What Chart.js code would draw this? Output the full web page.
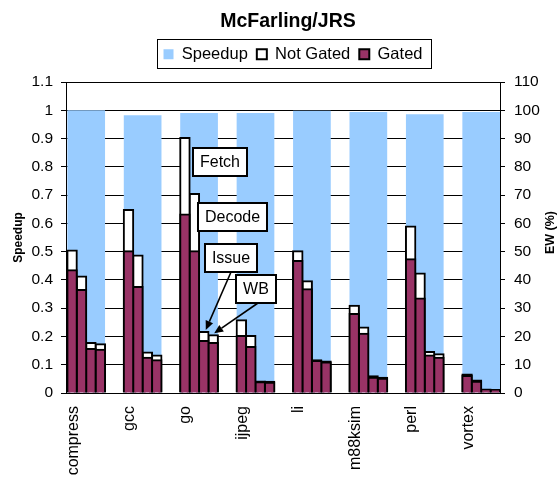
<!DOCTYPE html>
<html>
<head>
<meta charset="utf-8">
<title>McFarling/JRS</title>
<script src="https://cdn.jsdelivr.net/npm/chart.js@4.4.1/dist/chart.umd.min.js"></script>
<style>
  html, body { margin: 0; padding: 0; background: #ffffff; }
  #wrap { width: 559px; height: 479px; }
</style>
</head>
<body>
<div id="wrap"><canvas id="chart" width="559" height="479"></canvas></div>
<script>
// Benchmarks on the category axis
const categories = ['compress', 'gcc', 'go', 'ijpeg', 'li', 'm88ksim', 'perl', 'vortex'];

// Speedup (left axis)
const speedup = [1.000, 0.982, 0.990, 0.990, 0.998, 0.994, 0.986, 0.994];

// EW (%) per pipeline stage (right axis), without and with gating
const fetchNotGated  = [50.4, 64.7, 90.2, 25.7, 50.1, 30.9, 58.9, 6.5];
const fetchGated     = [43.4, 50.1, 63.1, 20.2, 46.7, 27.9, 47.3, 6.0];
const decodeNotGated = [41.2, 48.6, 70.4, 20.2, 39.5, 23.2, 42.3, 4.4];
const decodeGated    = [36.4, 37.5, 50.1, 16.3, 36.7, 21.0, 33.4, 4.0];
const issueNotGated  = [17.7, 14.3, 21.6, 4.1, 11.6, 5.9, 14.5, 1.2];
const issueGated     = [15.6, 12.5, 18.4, 3.8, 11.3, 5.4, 13.3, 1.0];
const wbNotGated     = [17.2, 13.3, 20.4, 4.0, 11.1, 5.4, 13.7, 1.1];
const wbGated        = [15.3, 11.6, 17.7, 3.6, 10.8, 5.0, 12.5, 0.9];

const stageNames = ['Fetch', 'Decode', 'Issue', 'WB'];
const notGatedByStage = [fetchNotGated, decodeNotGated, issueNotGated, wbNotGated];
const gatedByStage = [fetchGated, decodeGated, issueGated, wbGated];

// Styling
const FONT = '"Liberation Sans", Arial, Helvetica, sans-serif';
const SPEEDUP_BLUE = '#99CCFF';
const GATED_RED = '#993366';
const BAR_SHARE = 0.668;

Chart.defaults.font.family = FONT;
Chart.defaults.color = '#000000';

const datasets = [
  {
    label: 'Speedup',
    data: speedup,
    yAxisID: 'y',
    backgroundColor: SPEEDUP_BLUE,
    borderWidth: 0,
    inflateAmount: 0,
    grouped: false,
    categoryPercentage: BAR_SHARE,
    barPercentage: 1,
    order: 3
  }
];
stageNames.forEach((stage, i) => {
  datasets.push({
    label: 'Gated', stack: stage, data: gatedByStage[i], yAxisID: 'y2',
    backgroundColor: GATED_RED, borderColor: '#000000', borderWidth: 2, inflateAmount: 1,
    categoryPercentage: BAR_SHARE, barPercentage: 1, order: 1
  });
});
stageNames.forEach((stage, i) => {
  datasets.push({
    label: 'Not Gated', stack: stage, data: notGatedByStage[i], yAxisID: 'y2',
    backgroundColor: '#ffffff', borderColor: '#000000', borderWidth: 2, inflateAmount: 1,
    categoryPercentage: BAR_SHARE, barPercentage: 1, order: 2
  });
});

// Stage call-outs, placed next to the "go" group
const calloutCategory = 2;
const callouts = [
  { text: 'Fetch',  dx: -6.5, level: 0.816 },
  { text: 'Decode', dx: -1.5, level: 0.6215 },
  { text: 'Issue',  dx: 5.8,  level: 0.478, arrowStage: 2, arrowFrom: 26, tipDx: 2 },
  { text: 'WB',     dx: 36.8, level: 0.369, arrowStage: 3, arrowFrom: 22, tipDx: 1 }
];

function drawArrow(ctx, x0, y0, x1, y1) {
  const ang = Math.atan2(y1 - y0, x1 - x0);
  const len = 9, half = 4;
  const bx = x1 - len * Math.cos(ang), by = y1 - len * Math.sin(ang);
  ctx.beginPath();
  ctx.moveTo(x0, y0);
  ctx.lineTo(bx, by);
  ctx.lineWidth = 1.6;
  ctx.strokeStyle = '#000';
  ctx.stroke();
  ctx.beginPath();
  ctx.moveTo(x1, y1);
  ctx.lineTo(bx + half * Math.sin(ang), by - half * Math.cos(ang));
  ctx.lineTo(bx - half * Math.sin(ang), by + half * Math.cos(ang));
  ctx.closePath();
  ctx.fillStyle = '#000';
  ctx.fill();
}

const calloutPlugin = {
  id: 'stageCallouts',
  afterDatasetsDraw(chart) {
    const { ctx, scales } = chart;
    const anchorX = scales.x.getPixelForValue(calloutCategory);
    ctx.save();
    ctx.font = '16px ' + FONT;
    ctx.textBaseline = 'middle';
    ctx.textAlign = 'center';
    callouts.forEach(c => {
      const w = Math.round(ctx.measureText(c.text).width + 14);
      const h = 28;
      const left = Math.round(anchorX + c.dx);
      const top = Math.round(scales.y.getPixelForValue(c.level) - h / 2);
      if (c.arrowStage !== undefined) {
        const meta = chart.getDatasetMeta(1 + stageNames.length + c.arrowStage);
        const bar = meta.data[calloutCategory];
        drawArrow(ctx, left + c.arrowFrom, top + h, bar.x + c.tipDx, bar.y - 2);
      }
      ctx.fillStyle = '#fff';
      ctx.fillRect(left, top, w, h);
      ctx.lineWidth = 2;
      ctx.strokeStyle = '#000';
      ctx.strokeRect(left, top, w, h);
      ctx.fillStyle = '#000';
      ctx.fillText(c.text, left + w / 2, top + h / 2 + 1);
    });
    ctx.restore();
  }
};

// Frame around the legend and the right-hand axis title
const framePlugin = {
  id: 'legendFrame',
  afterLayout(chart) {
    const shiftBox = (box, dx) => { if (box) { box.left += dx; box.right += dx; } };
    shiftBox(chart.titleBlock, 8.5);
    shiftBox(chart.legend, 13.5);
  },
  afterDraw(chart) {
    const { ctx, chartArea } = chart;
    const hb = chart.legend && chart.legend.legendHitBoxes;
    ctx.save();
    if (hb && hb.length) {
      const first = hb[0], last = hb[hb.length - 1];
      const cy = first.top + first.height / 2;
      const x0 = Math.round(first.left - 7) + 0.5;
      const x1 = Math.round(last.left + last.width + 9) + 0.5;
      const y0 = Math.round(cy - 15) + 0.5;
      ctx.lineWidth = 1;
      ctx.strokeStyle = '#000';
      ctx.strokeRect(x0, y0, x1 - x0, 29);
    }
    ctx.translate(chartArea.right + 51, (chartArea.top + chartArea.bottom) / 2 - 5);
    ctx.rotate(-Math.PI / 2);
    ctx.font = 'bold 12.5px ' + FONT;
    ctx.fillStyle = '#000';
    ctx.textAlign = 'center';
    ctx.textBaseline = 'middle';
    ctx.fillText('EW (%)', 0, 0);
    ctx.restore();
  }
};

// Empty strip between the legend and the plot
const gapPlugin = {
  id: 'plotGap',
  beforeInit(chart) {
    Chart.layouts.addBox(chart, {
      position: 'top', weight: 500, fullSize: true,
      options: {},
      width: 0, height: 0, left: 0, top: 0, right: 0, bottom: 0,
      isHorizontal() { return true; },
      update(maxWidth) { this.width = maxWidth; this.height = 9.5; return this.height; },
      draw() {}
    });
  }
};

new Chart(document.getElementById('chart'), {
  type: 'bar',
  data: { labels: categories.map((_, i) => i), datasets },
  options: {
    responsive: false,
    animation: false,
    events: [],
    layout: { padding: 0 },
    plugins: {
      title: {
        display: true,
        text: 'McFarling/JRS',
        font: { size: 19.5, weight: 'bold', family: FONT },
        color: '#000',
        padding: { top: 10.3, bottom: 3.3 }
      },
      legend: {
        display: true,
        position: 'top',
        labels: {
          font: { size: 16.5, family: FONT },
          color: '#000',
          boxWidth: 10,
          boxHeight: 10,
          padding: 9,
          generateLabels: () => [
            { text: 'Speedup', fillStyle: SPEEDUP_BLUE, strokeStyle: SPEEDUP_BLUE, lineWidth: 0, fontColor: '#000', hidden: false, datasetIndex: 0 },
            { text: 'Not Gated', fillStyle: '#ffffff', strokeStyle: '#000000', lineWidth: 2, fontColor: '#000', hidden: false, datasetIndex: 5 },
            { text: 'Gated', fillStyle: GATED_RED, strokeStyle: '#000000', lineWidth: 2, fontColor: '#000', hidden: false, datasetIndex: 1 }
          ]
        }
      },
      tooltip: { enabled: false }
    },
    scales: {
      x: {
        type: 'linear',
        position: 'bottom',
        offset: false,
        min: -0.358,
        max: 7.333,
        afterBuildTicks: (scale) => { scale.ticks = categories.map((_, i) => ({ value: i })); },
        afterFit: (scale) => { scale.height = 86; },
        grid: { display: false, drawTicks: false, offset: false },
        border: { display: true, color: '#000', width: 1 },
        ticks: {
          autoSkip: false,
          minRotation: 90,
          maxRotation: 90,
          padding: 13,
          labelOffset: -13,
          font: { size: 16, family: FONT },
          color: '#000',
          callback: (v) => categories[v]
        }
      },
      y: {
        position: 'left',
        min: 0,
        max: 1.1,
        afterFit: (scale) => { scale.width = 66; },
        grid: { color: '#000', lineWidth: 1, tickLength: 5, drawTicks: true },
        border: { display: true, color: '#000', width: 1 },
        title: {
          display: true,
          text: 'Speedup',
          font: { size: 12, weight: 'bold', family: FONT },
          color: '#000',
          padding: { top: 11, bottom: 0 }
        },
        ticks: {
          stepSize: 0.1,
          maxTicksLimit: 20,
          padding: 8,
          font: { size: 15.5, family: FONT },
          color: '#000',
          callback: (v) => String(Math.round(v * 10) / 10)
        }
      },
      y2: {
        position: 'right',
        min: 0,
        max: 110,
        stacked: false,
        afterFit: (scale) => { scale.width = 59; },
        grid: { drawOnChartArea: false, color: '#000', lineWidth: 1, tickLength: 5, drawTicks: true },
        border: { display: true, color: '#000', width: 1 },
        ticks: {
          stepSize: 10,
          maxTicksLimit: 20,
          padding: 9,
          font: { size: 15.5, family: FONT },
          color: '#000',
          callback: (v) => String(Math.round(v))
        }
      }
    }
  },
  plugins: [gapPlugin, calloutPlugin, framePlugin]
});
</script>
</body>
</html>
